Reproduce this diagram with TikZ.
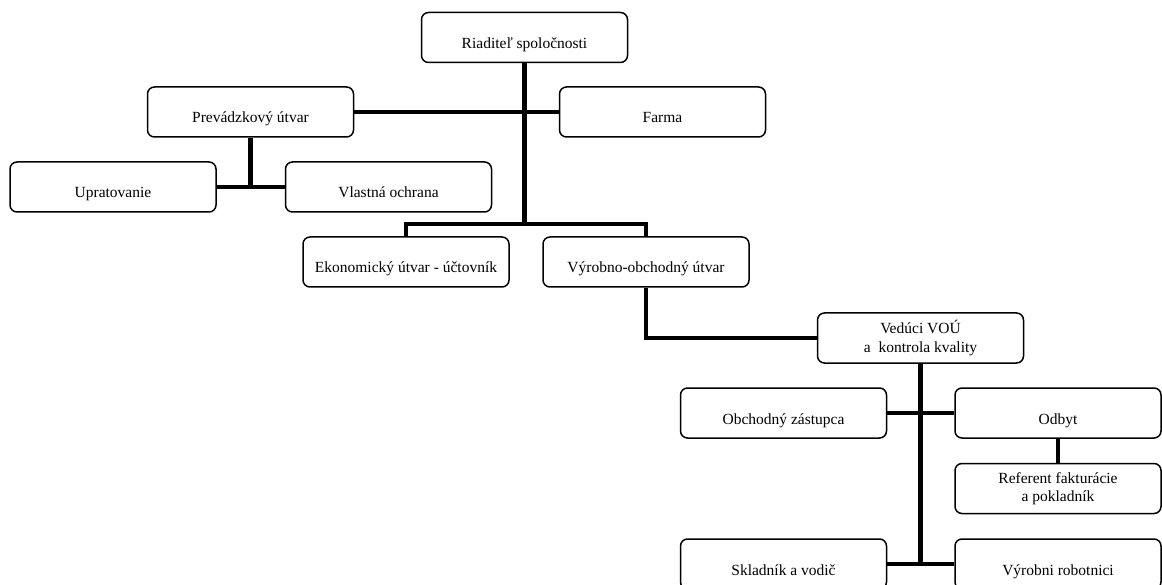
\documentclass[tikz,border=0pt]{standalone}
\usepackage{fontspec}
\setmainfont{Liberation Serif}
\tikzset{
  base/.style={draw, line width=1.5pt, rounded corners=7pt, fill=white,
    minimum width=206pt, minimum height=50pt, inner sep=0pt, align=center,
    font=\fontsize{15.5pt}{18.5pt}\selectfont},
  onebox/.style={base, text height=36pt, text depth=14pt},
  twobox/.style={base},
  link/.style={line width=4.5pt}
}
\begin{document}
\begin{tikzpicture}[x=1pt,y=-1pt]
\useasboundingbox (0,0) rectangle (1162,585);
\clip (0,0) rectangle (1162,585);
% connectors first
\coordinate (b1) at (524.5,224);
\coordinate (b2) at (920.5,564);
\coordinate (b3) at (250.5,187);
% boxes
\node[onebox] (riad) at (524.5,37.5) {Riaditeľ spoločnosti};
\node[onebox] (prev) at (250.5,112) {Prevádzkový útvar};
\node[onebox] (farma) at (662.5,112) {Farma};
\node[onebox] (uprat) at (113,187) {Upratovanie};
\node[onebox] (vlast) at (388.5,187) {Vlastná ochrana};
\node[onebox] (ekon) at (406,262) {Ekonomický útvar - účtovník};
\node[onebox] (vyrob) at (646,262) {Výrobno-obchodný útvar};
\node[twobox] (ved) at (920.5,338) {Vedúci VOÚ\\a\ \ kontrola kvality};
\node[onebox] (obch) at (783.5,413) {Obchodný zástupca};
\node[onebox] (odbyt) at (1058,413) {Odbyt};
\node[twobox] (ref) at (1058,488.5) {Referent fakturácie\\a pokladník};
\node[onebox] (sklad) at (783.5,564) {Skladník a vodič};
\node[onebox] (vyrobni) at (1058,564) {Výrobni robotnici};
% connectors
\draw[link] (riad.south) -- (b1);
\draw[link] (prev.east) -- (farma.west);
\draw[link] (ekon.north) |- (b1) -| (vyrob.north);
\draw[link] (prev.south) -- (b3);
\draw[link] (uprat.east) -- (vlast.west);
\draw[link] (vyrob.south) |- (ved.west);
\draw[link] (ved.south) -- (b2);
\draw[link] (obch.east) -- (odbyt.west);
\draw[link] (sklad.east) -- (vyrobni.west);
\draw[link] (odbyt.south) -- (ref.north);
\end{tikzpicture}
\end{document}
